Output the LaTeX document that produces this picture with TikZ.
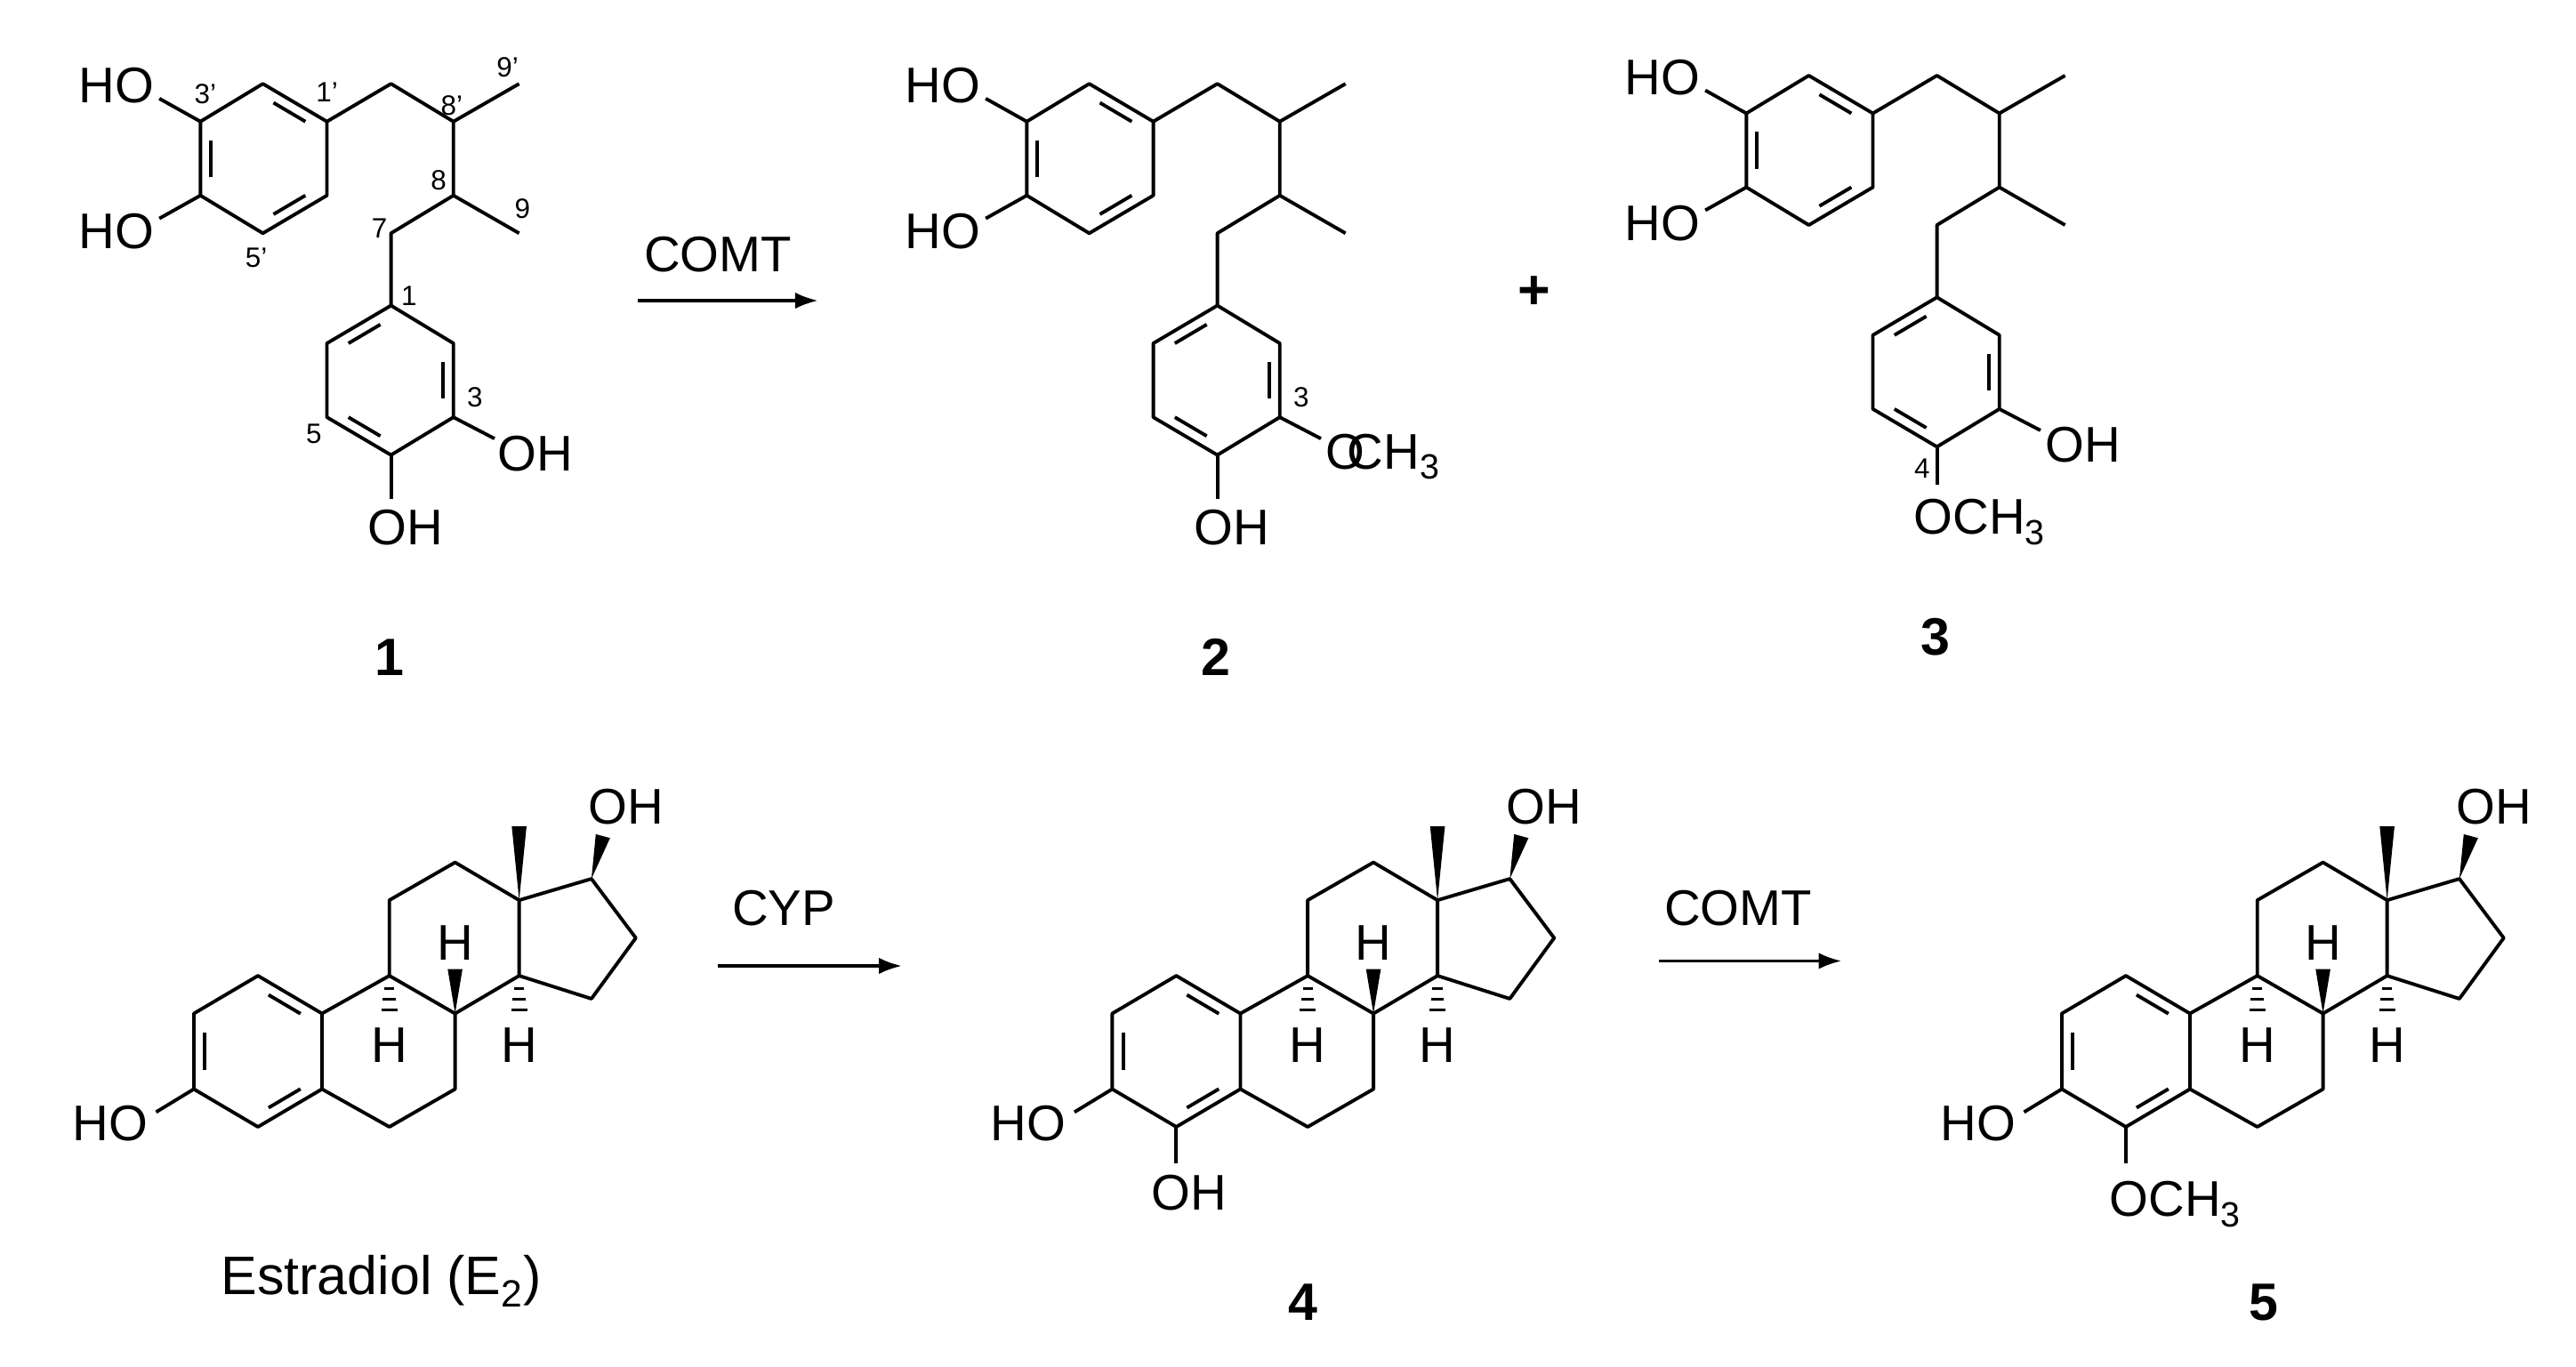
\documentclass[tikz,border=0pt]{standalone}
\usepackage{fontspec}
\setmainfont{Liberation Sans}
\usetikzlibrary{calc,arrows.meta}
\newcommand{\dbl}[3]{\draw ($(#1)!.2!(#2)!.17!(#3)$) -- ($(#2)!.2!(#1)!.17!(#3)$);}
\newcommand{\wedgeb}[2]{\fill ($(#1)$) -- ($(#2)!4.5pt!90:(#1)$) -- ($(#2)!4.5pt!-90:(#1)$) -- cycle;}
\newcommand{\lignan}{%
  \coordinate (p3) at (122,74); \coordinate (p2) at (160,51); \coordinate (p1) at (199,74);
  \coordinate (p6) at (199,119); \coordinate (p5) at (160,142); \coordinate (p4) at (122,119);
  \coordinate (pc) at (160,96.5);
  \coordinate (m7p) at (238,51); \coordinate (m8p) at (276,74); \coordinate (m9p) at (316,51);
  \coordinate (m8) at (276,119); \coordinate (m9) at (316,142); \coordinate (m7) at (238,142);
  \coordinate (q1) at (238,186); \coordinate (q2) at (276,209); \coordinate (q3) at (276,254);
  \coordinate (q4) at (238,277); \coordinate (q5) at (199,254); \coordinate (q6) at (199,209);
  \coordinate (qc) at (238,231.5);
  \draw (p3)--(p2)--(p1)--(p6)--(p5)--(p4)--cycle;
  \dbl{p2}{p1}{pc}\dbl{p3}{p4}{pc}\dbl{p6}{p5}{pc}
  \draw (p1)--(m7p)--(m8p)--(m9p); \draw (m8p)--(m8)--(m9); \draw (m8)--(m7)--(q1);
  \draw (q1)--(q2)--(q3)--(q4)--(q5)--(q6)--cycle;
  \dbl{q1}{q6}{qc}\dbl{q2}{q3}{qc}\dbl{q4}{q5}{qc}
  \draw (p3)--(97,60); \draw (p4)--(97,133);
  \node[lbl] (hoa) at (71,52) {HO}; \node[lbl] (hob) at (71,141) {HO};
}
\newcommand{\steroid}{%
  \coordinate (a1) at (118,617); \coordinate (a2) at (157,594); \coordinate (a3) at (196,617);
  \coordinate (a4) at (196,663); \coordinate (a5) at (157,686); \coordinate (a6) at (118,663);
  \coordinate (ac) at (157,640);
  \coordinate (b9) at (237,594); \coordinate (b8) at (277,617); \coordinate (b7) at (277,663);
  \coordinate (b6) at (237,686);
  \coordinate (c11) at (237,548); \coordinate (c12) at (277,525); \coordinate (c13) at (316,548);
  \coordinate (c14) at (316,594);
  \coordinate (d17) at (360,535); \coordinate (d16) at (387,571); \coordinate (d15) at (360,608);
  \draw (a1)--(a2)--(a3)--(a4)--(a5)--(a6)--cycle;
  \dbl{a1}{a6}{ac}\dbl{a2}{a3}{ac}\dbl{a4}{a5}{ac}
  \draw (a3)--(b9)--(b8)--(b7)--(b6)--(a4);
  \draw (b9)--(c11)--(c12)--(c13)--(c14)--(b8);
  \draw (c13)--(d17)--(d16)--(d15)--(c14);
  \wedgeb{c13}{316,503} \wedgeb{d17}{367,509}
  \wedgeb{b8}{277,590}
  \foreach \t in {0.35,0.65,0.95}{
    \draw[line width=1.6pt] ($(b9)+(-2-3*\t,22*\t)$)--($(b9)+(2+3*\t,22*\t)$);
    \draw[line width=1.6pt] ($(c14)+(-2-3*\t,22*\t)$)--($(c14)+(2+3*\t,22*\t)$);}
  \node[lbl] (h8) at (277,574) {H}; \node[lbl] (h9) at (237,636) {H}; \node[lbl] (h14) at (316,636) {H};
  \node[lbl] (oh17) at (381,491) {OH};
  \draw (a6)--(95,677);
}
\begin{document}
\begin{tikzpicture}[x=1pt,y=-1pt,line width=2.1pt,line join=round,
  lbl/.style={font=\fontsize{30.5}{32}\selectfont,inner sep=0pt},
  num/.style={font=\fontsize{17}{18}\selectfont,inner sep=0pt},
  cpd/.style={font=\fontsize{32}{34}\selectfont\bfseries,inner sep=0pt},
  rx/.style={-{Latex[length=14pt,width=10pt]},line width=2pt}]
\useasboundingbox (0,0) rectangle (1568,832);
% molecule 1
\begin{scope}
\lignan
\draw (q3)--(301,267); \draw (q4)--(238,304);
\node[lbl] (oh1a) at (326,276) {OH}; \node[lbl] (oh1b) at (247,321) {OH};
\node[num] at (125,57) {3'}; \node[num] at (199,56) {1'}; \node[num] at (309,41) {9'};
\node[num] at (275,64) {8'}; \node[num] at (267,110) {8}; \node[num] at (318,127) {9};
\node[num] at (231,139) {7}; \node[num] at (156,157) {5'}; \node[num] at (249,180) {1};
\node[num] at (289,242) {3}; \node[num] at (191,264) {5};
\end{scope}
\node[cpd] (c1) at (237,400) {1};
% molecule 2
\begin{scope}[shift={(503,0)}]
\lignan
\draw (q3)--(301,267); \draw (q4)--(238,304);
\node[lbl,anchor=west] (ome2) at (303,278) {O\kern-0.35em CH\textsubscript{3}};
\node[lbl] (oh2) at (247,321) {OH};
\node[num] at (289,242) {3};
\end{scope}
\node[cpd] (c2) at (740,400) {2};
% molecule 3
\begin{scope}[shift={(941,-5)}]
\lignan
\draw (q3)--(301,267); \draw (q4)--(238,300);
\node[lbl] (oh3) at (327,276) {OH};
\node[lbl,anchor=west] (ome3) at (223,323) {OCH\textsubscript{3}};
\node[num] at (229,290) {4};
\end{scope}
\node[cpd] (c3) at (1178,388) {3};
\node[font=\fontsize{34}{36}\selectfont\bfseries] (plus) at (934,178) {+};
\coordinate (r1s) at (388,183); \coordinate (r1e) at (498,183);
\draw[rx] (r1s)--(r1e);
\node[lbl] (comt1) at (437,155) {COMT};
% estradiol
\begin{scope}
\steroid
\node[lbl] (ho4) at (67,684) {HO};
\end{scope}
\node[font=\fontsize{33}{35}\selectfont,inner sep=0pt] (e2) at (232,780) {Estradiol (E\textsubscript{2})};
% molecule 4
\begin{scope}[shift={(559,0)}]
\steroid
\node[lbl] (ho4b) at (67,684) {HO};
\draw (a5)--(157,708);
\node[lbl] (oh4) at (165,726) {OH};
\end{scope}
\node[cpd] (c4) at (793,793) {4};
% molecule 5
\begin{scope}[shift={(1137,0)}]
\steroid
\node[lbl] (ho5) at (67,684) {HO};
\draw (a5)--(157,708);
\node[lbl,anchor=west] (ome5) at (146,733) {OCH\textsubscript{3}};
\end{scope}
\node[cpd] (c5) at (1378,793) {5};
\coordinate (r2s) at (437,588); \coordinate (r2e) at (549,588);
\draw[rx] (r2s)--(r2e);
\node[lbl] (cyp) at (477,553) {CYP};
\coordinate (r3s) at (1010,585); \coordinate (r3e) at (1121,585);
\draw[rx] (r3s)--(r3e);
\node[lbl] (comt2) at (1058,553) {COMT};
\end{tikzpicture}
\end{document}
